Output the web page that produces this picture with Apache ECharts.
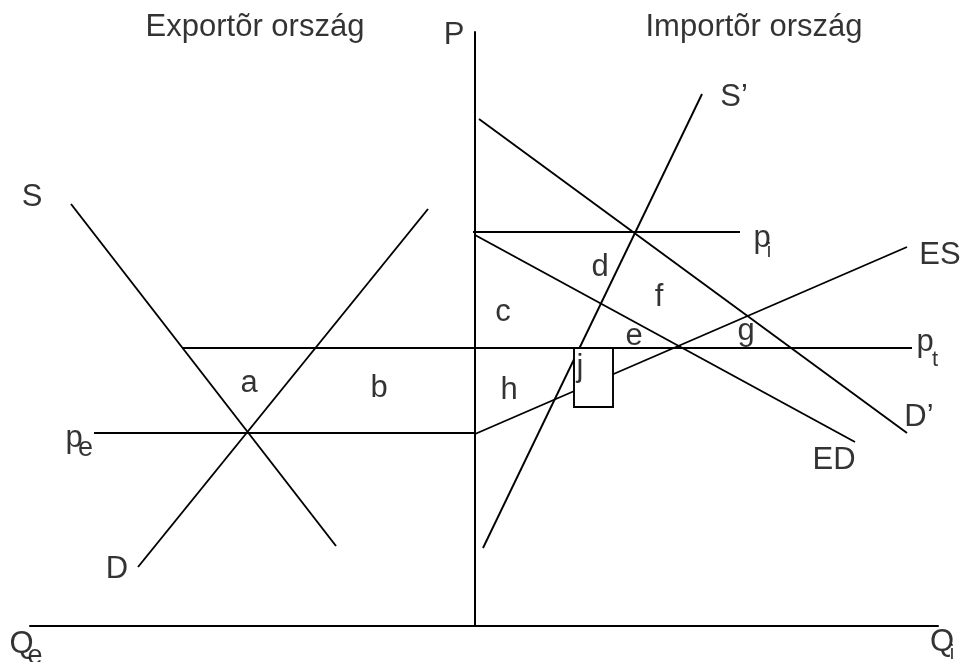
<!DOCTYPE html>
<html>
<head>
<meta charset="utf-8">
<script src="https://cdn.jsdelivr.net/npm/echarts@6/dist/echarts.min.js"></script>
<style>
  html, body { margin: 0; padding: 0; background: #fff; }
  #chart { width: 962px; height: 662px; }
</style>
</head>
<body>
<div id="chart"></div>
<script>
// exporter (left) and importer (right) markets, Q across, P up
const supplyS = [[-40.4, 42.2], [-13.9, 8.0]];
const demandD = [[-4.7, 41.7], [-33.7, 5.9]];
const priceE = [[-38.1, 19.3], [0, 19.3]];
const priceT = [[-29.2, 27.8], [43.7, 27.8]];
const demandD2 = [[0.4, 50.7], [43.2, 19.3]];
const priceI = [[-0.2, 39.4], [26.5, 39.4]];
const excessD = [[0, 39.1], [38, 18.4]];
const supplyS2 = [[22.7, 53.2], [0.8, 7.8]];
const excessS = [[0, 19.2], [43.2, 37.9]];
const curves = [supplyS, demandD, priceE, priceT, demandD2, priceI, excessD, supplyS2, excessS];

// the "j" box: [x0, y0, x1, y1]
const boxJ = [[9.9, 27.8, 13.8, 21.9]];

// text labels: text, [x, y], font size
const labelText = ['Exportõr ország', 'Importõr ország', 'P', 'S', 'S’', 'p', 'i', 'ES',
  'd', 'f', 'c', 'e', 'g', 'p', 't', 'a', 'b', 'h', 'j', 'D’', 'ED', 'p', 'e', 'D',
  'Q', 'e', 'Q', 'i'];
const labelPos = [[-22.0, 59.9], [27.9, 59.9], [-2.1, 59.1], [-44.3, 42.9], [25.9, 52.9],
  [28.7, 38.8], [29.4, 37.5], [46.5, 37.1], [12.5, 35.9], [18.4, 32.9], [2.8, 31.4],
  [15.9, 29.0], [27.1, 29.5], [45.0, 28.4], [46.0, 26.6], [-22.6, 24.3], [-9.6, 23.8],
  [3.4, 23.6], [10.5, 25.9], [44.4, 20.9], [35.9, 16.6], [-40.1, 18.8], [-38.95, 17.7],
  [-35.8, 5.7], [-45.35, -1.8], [-44.0, -3.1], [46.7, -1.6], [47.7, -2.7]];
const labelSize = [31, 31, 31, 31, 31, 31, 20, 31, 31, 31, 31, 31, 31, 31, 22, 31, 31,
  31, 31, 31, 31, 31, 27, 31, 31, 27, 31, 20];

const font = '"Liberation Sans", Arial, sans-serif';

let series = curves.map(function (pts) {
  return {
    type: 'line',
    data: pts,
    symbol: 'none',
    silent: true,
    z: 2,
    lineStyle: { color: '#000', width: 1.9 }
  };
});

series.push({
  type: 'custom',
  data: boxJ,
  z: 5,
  silent: true,
  renderItem: function (params, api) {
    let p0 = api.coord([api.value(0), api.value(1)]);
    let p1 = api.coord([api.value(2), api.value(3)]);
    return {
      type: 'rect',
      shape: { x: p0[0], y: p0[1], width: p1[0] - p0[0], height: p1[1] - p0[1] },
      style: { fill: '#fff', stroke: '#000', lineWidth: 1.9 }
    };
  }
});

series.push({
  type: 'scatter',
  clip: false,
  symbolSize: 0,
  z: 10,
  silent: true,
  data: labelText.map(function (t, i) {
    return {
      value: labelPos[i],
      label: { formatter: t, fontSize: labelSize[i], color: '#000' }
    };
  }),
  label: {
    show: true,
    position: 'inside',
    color: '#000',
    textBorderWidth: 0,
    fontFamily: font,
    align: 'center',
    verticalAlign: 'middle'
  }
});

let option = {
  animation: false,
  backgroundColor: '#fff',
  grid: { left: 30, right: 24, top: 32, bottom: 36 },
  xAxis: {
    type: 'value',
    min: -44.5,
    max: 46.3,
    axisLine: { onZero: true, lineStyle: { color: '#000', width: 2 } },
    axisTick: { show: false },
    axisLabel: { show: false },
    splitLine: { show: false }
  },
  yAxis: {
    type: 'value',
    min: 0,
    max: 59.4,
    axisLine: { show: true, onZero: true, lineStyle: { color: '#000', width: 2 } },
    axisTick: { show: false },
    axisLabel: { show: false },
    splitLine: { show: false }
  },
  series: series
};

let myChart = echarts.init(document.getElementById('chart'));
myChart.setOption(option);
</script>
</body>
</html>
